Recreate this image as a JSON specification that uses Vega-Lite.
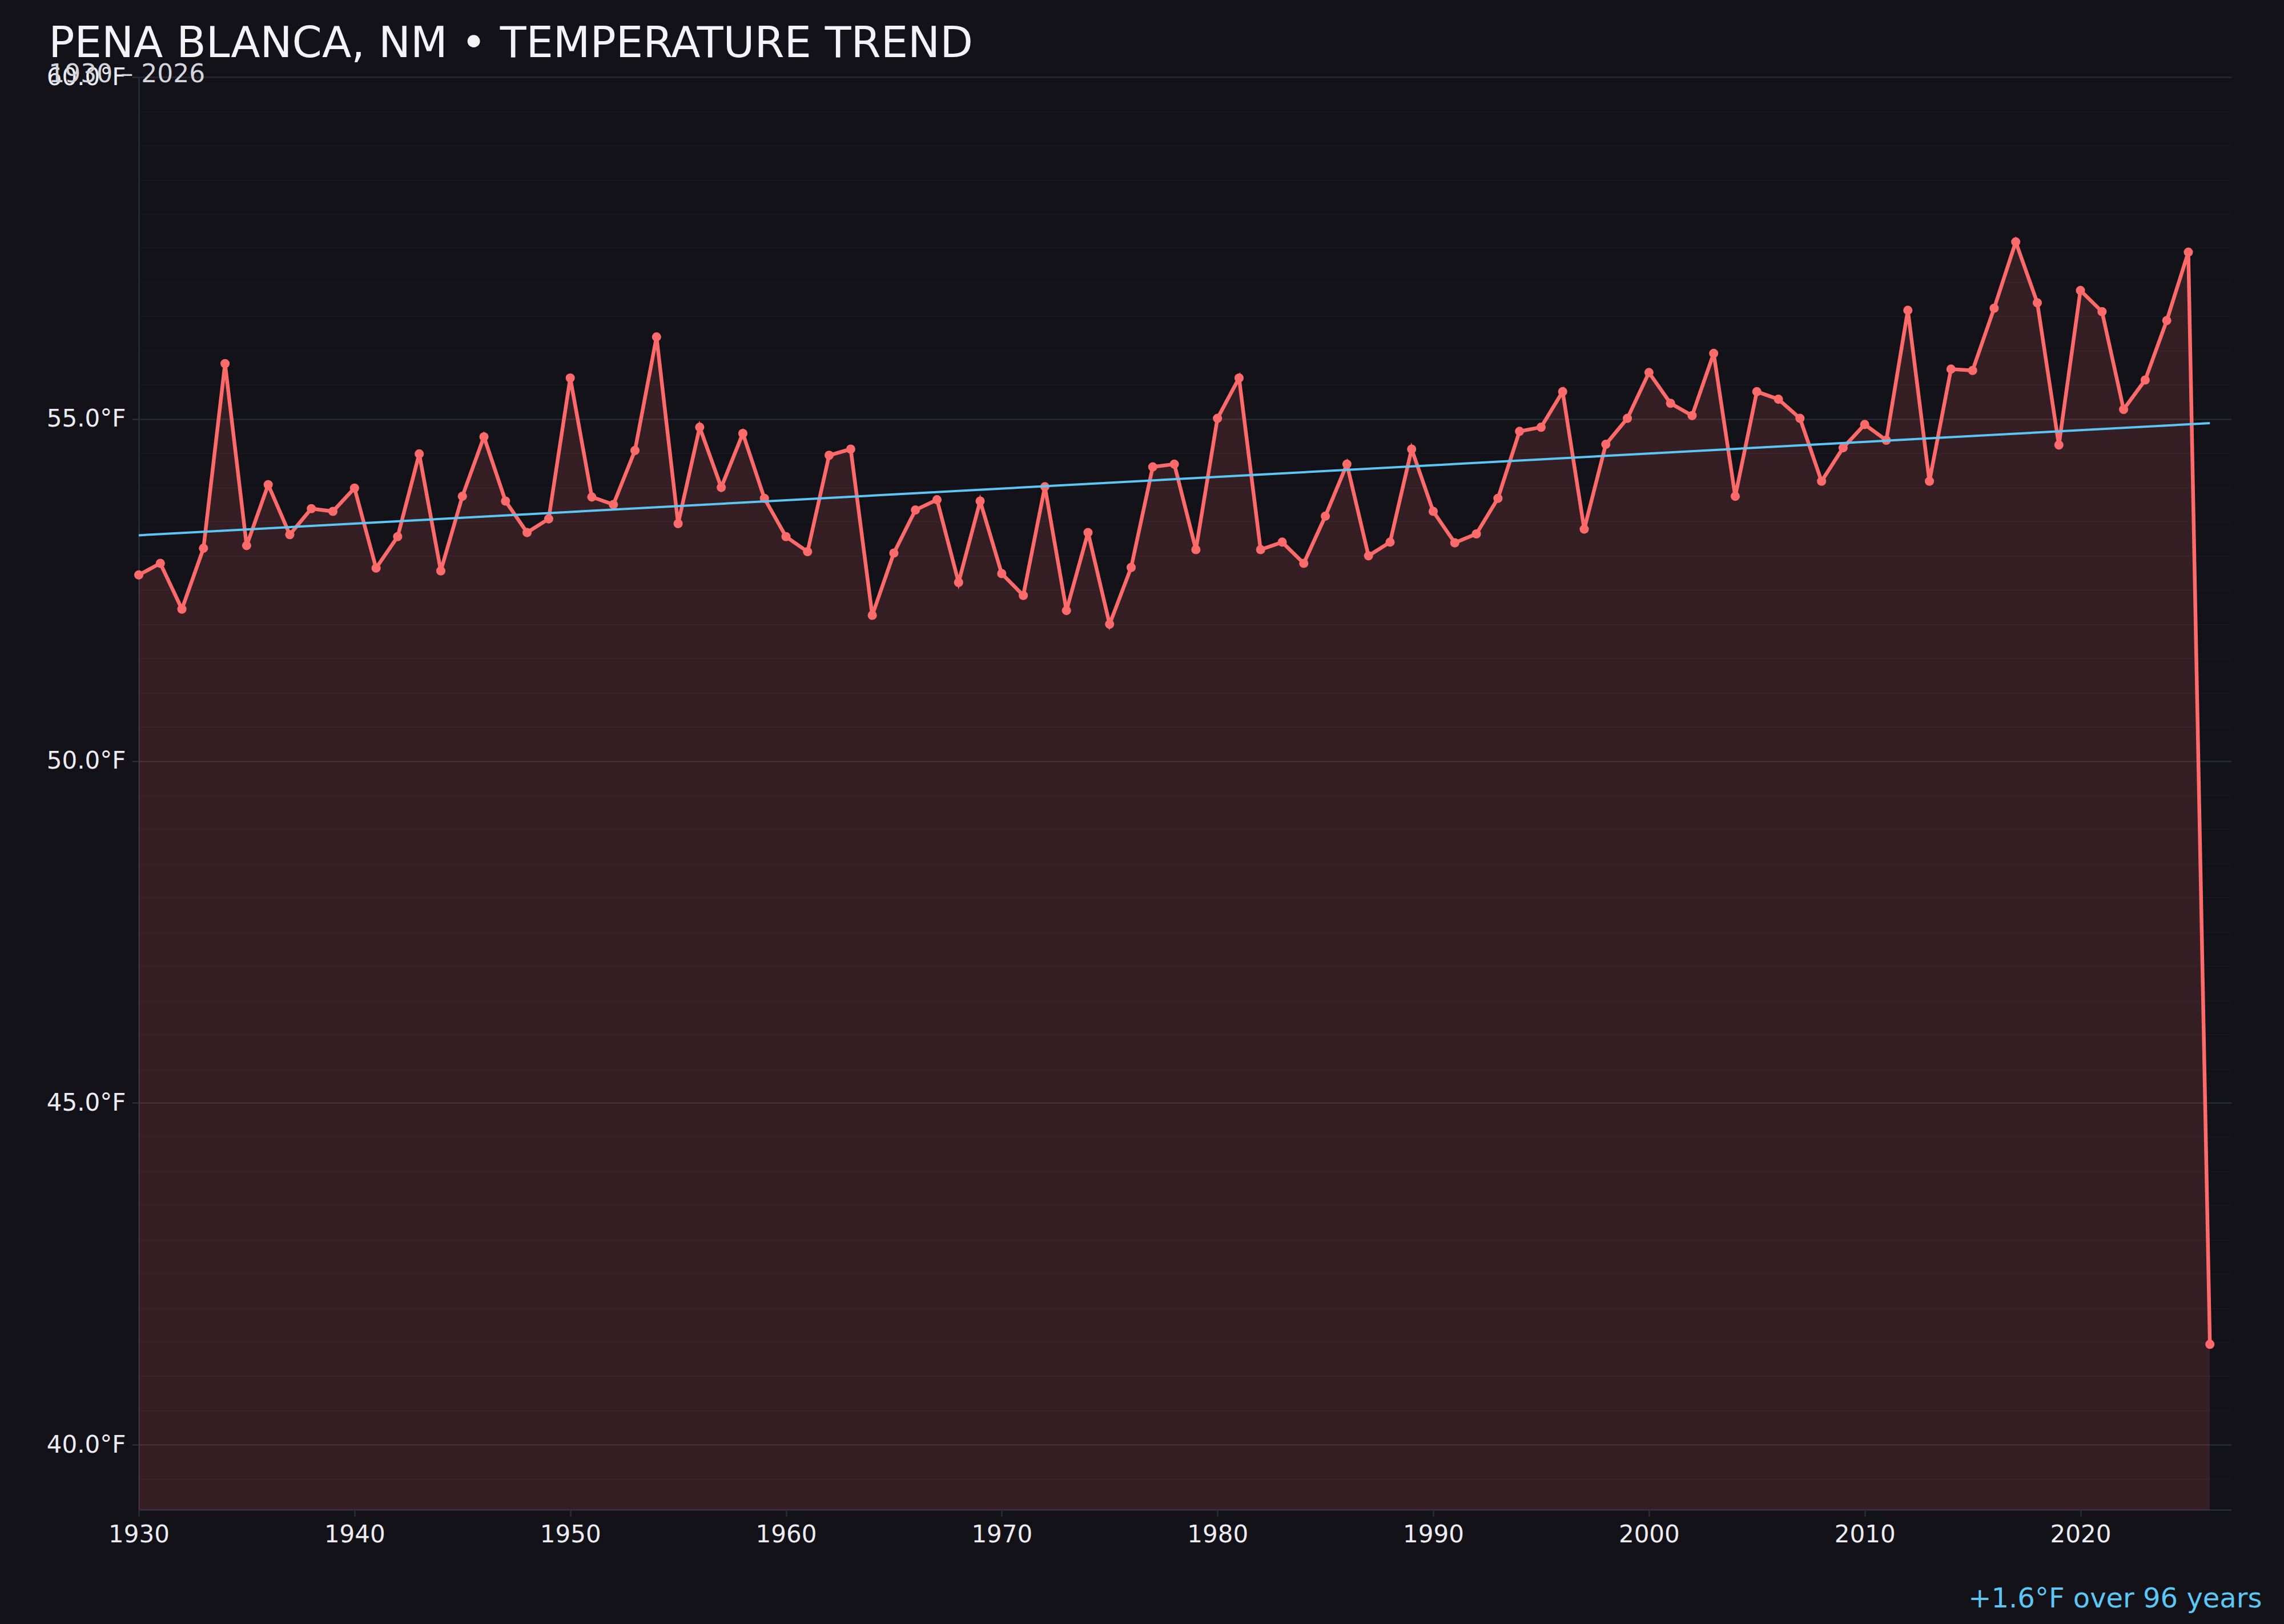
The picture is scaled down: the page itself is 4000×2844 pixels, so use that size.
{
  "$schema": "https://vega.github.io/schema/vega-lite/v6.json",
  "width": 3665,
  "height": 2509,
  "autosize": {"type": "none"},
  "padding": {"left": 243, "top": 135, "right": 92, "bottom": 200},
  "background": "#121218",
  "config": {
    "view": {"stroke": null},
    "font": "DejaVu Sans"
  },
  "title": {
    "text": "PENA BLANCA, NM • TEMPERATURE TREND",
    "subtitle": "1930 – 2026",
    "anchor": "start",
    "frame": "bounds",
    "dx": 4,
    "fontSize": 75,
    "fontWeight": "normal",
    "color": "#f2f2f7",
    "subtitleFontSize": 44,
    "subtitleColor": "#d4d4dc",
    "subtitlePadding": -7,
    "offset": -40
  },
  "datasets": {
    "temps": [
      {"year": 1930, "temp": 52.72}, {"year": 1931, "temp": 52.89}, {"year": 1932, "temp": 52.22},
      {"year": 1933, "temp": 53.11}, {"year": 1934, "temp": 55.81}, {"year": 1935, "temp": 53.15},
      {"year": 1936, "temp": 54.04}, {"year": 1937, "temp": 53.31}, {"year": 1938, "temp": 53.69},
      {"year": 1939, "temp": 53.65}, {"year": 1940, "temp": 53.99}, {"year": 1941, "temp": 52.82},
      {"year": 1942, "temp": 53.28}, {"year": 1943, "temp": 54.49}, {"year": 1944, "temp": 52.78},
      {"year": 1945, "temp": 53.87}, {"year": 1946, "temp": 54.74}, {"year": 1947, "temp": 53.80},
      {"year": 1948, "temp": 53.34}, {"year": 1949, "temp": 53.54}, {"year": 1950, "temp": 55.60},
      {"year": 1951, "temp": 53.86}, {"year": 1952, "temp": 53.75}, {"year": 1953, "temp": 54.54},
      {"year": 1954, "temp": 56.20}, {"year": 1955, "temp": 53.47}, {"year": 1956, "temp": 54.88},
      {"year": 1957, "temp": 54.00}, {"year": 1958, "temp": 54.79}, {"year": 1959, "temp": 53.84},
      {"year": 1960, "temp": 53.28}, {"year": 1961, "temp": 53.06}, {"year": 1962, "temp": 54.47},
      {"year": 1963, "temp": 54.56}, {"year": 1964, "temp": 52.13}, {"year": 1965, "temp": 53.04},
      {"year": 1966, "temp": 53.67}, {"year": 1967, "temp": 53.82}, {"year": 1968, "temp": 52.61},
      {"year": 1969, "temp": 53.80}, {"year": 1970, "temp": 52.74}, {"year": 1971, "temp": 52.42},
      {"year": 1972, "temp": 54.01}, {"year": 1973, "temp": 52.20}, {"year": 1974, "temp": 53.34},
      {"year": 1975, "temp": 52.00}, {"year": 1976, "temp": 52.83}, {"year": 1977, "temp": 54.30},
      {"year": 1978, "temp": 54.34}, {"year": 1979, "temp": 53.09}, {"year": 1980, "temp": 55.01},
      {"year": 1981, "temp": 55.60}, {"year": 1982, "temp": 53.09}, {"year": 1983, "temp": 53.20},
      {"year": 1984, "temp": 52.89}, {"year": 1985, "temp": 53.58}, {"year": 1986, "temp": 54.34},
      {"year": 1987, "temp": 53.00}, {"year": 1988, "temp": 53.20}, {"year": 1989, "temp": 54.56},
      {"year": 1990, "temp": 53.65}, {"year": 1991, "temp": 53.19}, {"year": 1992, "temp": 53.32},
      {"year": 1993, "temp": 53.84}, {"year": 1994, "temp": 54.82}, {"year": 1995, "temp": 54.88},
      {"year": 1996, "temp": 55.40}, {"year": 1997, "temp": 53.39}, {"year": 1998, "temp": 54.63},
      {"year": 1999, "temp": 55.01}, {"year": 2000, "temp": 55.68}, {"year": 2001, "temp": 55.23},
      {"year": 2002, "temp": 55.05}, {"year": 2003, "temp": 55.96}, {"year": 2004, "temp": 53.87},
      {"year": 2005, "temp": 55.40}, {"year": 2006, "temp": 55.29}, {"year": 2007, "temp": 55.01},
      {"year": 2008, "temp": 54.09}, {"year": 2009, "temp": 54.58}, {"year": 2010, "temp": 54.92},
      {"year": 2011, "temp": 54.69}, {"year": 2012, "temp": 56.59}, {"year": 2013, "temp": 54.09},
      {"year": 2014, "temp": 55.73}, {"year": 2015, "temp": 55.71}, {"year": 2016, "temp": 56.62},
      {"year": 2017, "temp": 57.59}, {"year": 2018, "temp": 56.70}, {"year": 2019, "temp": 54.62},
      {"year": 2020, "temp": 56.88}, {"year": 2021, "temp": 56.57}, {"year": 2022, "temp": 55.14},
      {"year": 2023, "temp": 55.57}, {"year": 2024, "temp": 56.44}, {"year": 2025, "temp": 57.44},
      {"year": 2026, "temp": 41.47}
    ],
    "trend": [
      {"year": 1930, "temp": 53.30},
      {"year": 2026, "temp": 54.94}
    ]
  },
  "data": {"name": "temps"},
  "encoding": {
    "x": {
      "field": "year",
      "type": "quantitative",
      "scale": {"domain": [1930, 2027], "nice": false, "zero": false},
      "axis": {
        "values": [1930, 1940, 1950, 1960, 1970, 1980, 1990, 2000, 2010, 2020],
        "format": "d",
        "grid": false,
        "labelFlush": false,
        "domainColor": "#2c2d38",
        "domainWidth": 2.5,
        "tickColor": "#2c2d38",
        "tickWidth": 2.5,
        "tickSize": 11,
        "labelFontSize": 42,
        "labelColor": "#ececf2",
        "labelPadding": 12,
        "title": "+1.6°F over 96 years",
        "titleColor": "#5cc6f5",
        "titleFontSize": 48,
        "titleFontWeight": "normal",
        "titleAlign": "right",
        "titleBaseline": "alphabetic",
        "titleX": 3718,
        "titleY": 170
      }
    },
    "y": {
      "field": "temp",
      "type": "quantitative",
      "scale": {"domain": [39.05, 60], "nice": false, "zero": false},
      "axis": {
        "values": [39.5, 40, 40.5, 41, 41.5, 42, 42.5, 43, 43.5, 44, 44.5, 45, 45.5, 46, 46.5, 47, 47.5, 48, 48.5, 49, 49.5, 50, 50.5, 51, 51.5, 52, 52.5, 53, 53.5, 54, 54.5, 55, 55.5, 56, 56.5, 57, 57.5, 58, 58.5, 59, 59.5, 60],
        "labelExpr": "datum.value % 5 === 0 ? format(datum.value, '.1f') + '°F' : ''",
        "labelOverlap": false,
        "labelFontSize": 42,
        "labelColor": "#ececf2",
        "labelPadding": 11,
        "domainColor": "#2c2d38",
        "domainWidth": 2.5,
        "tickColor": "#2c2d38",
        "tickWidth": 2.5,
        "tickSize": 12,
        "tickOpacity": {"condition": {"test": "datum.value % 5 === 0", "value": 1}, "value": 0},
        "gridColor": {"condition": {"test": "datum.value % 5 === 0", "value": "#282830"}, "value": "#17171d"},
        "gridWidth": 2.5,
        "title": null
      }
    }
  },
  "layer": [
    {
      "mark": {"type": "area", "color": "#ff6b6b", "opacity": 0.15},
      "encoding": {"y2": {"datum": 39.05}}
    },
    {
      "mark": {
        "type": "line",
        "color": "#ff6b6b",
        "strokeWidth": 6.5,
        "point": {"filled": true, "color": "#ff6b6b", "size": 260, "opacity": 1}
      }
    },
    {
      "data": {"name": "trend"},
      "mark": {"type": "line", "color": "#5cc6f5", "strokeWidth": 4}
    }
  ]
}
